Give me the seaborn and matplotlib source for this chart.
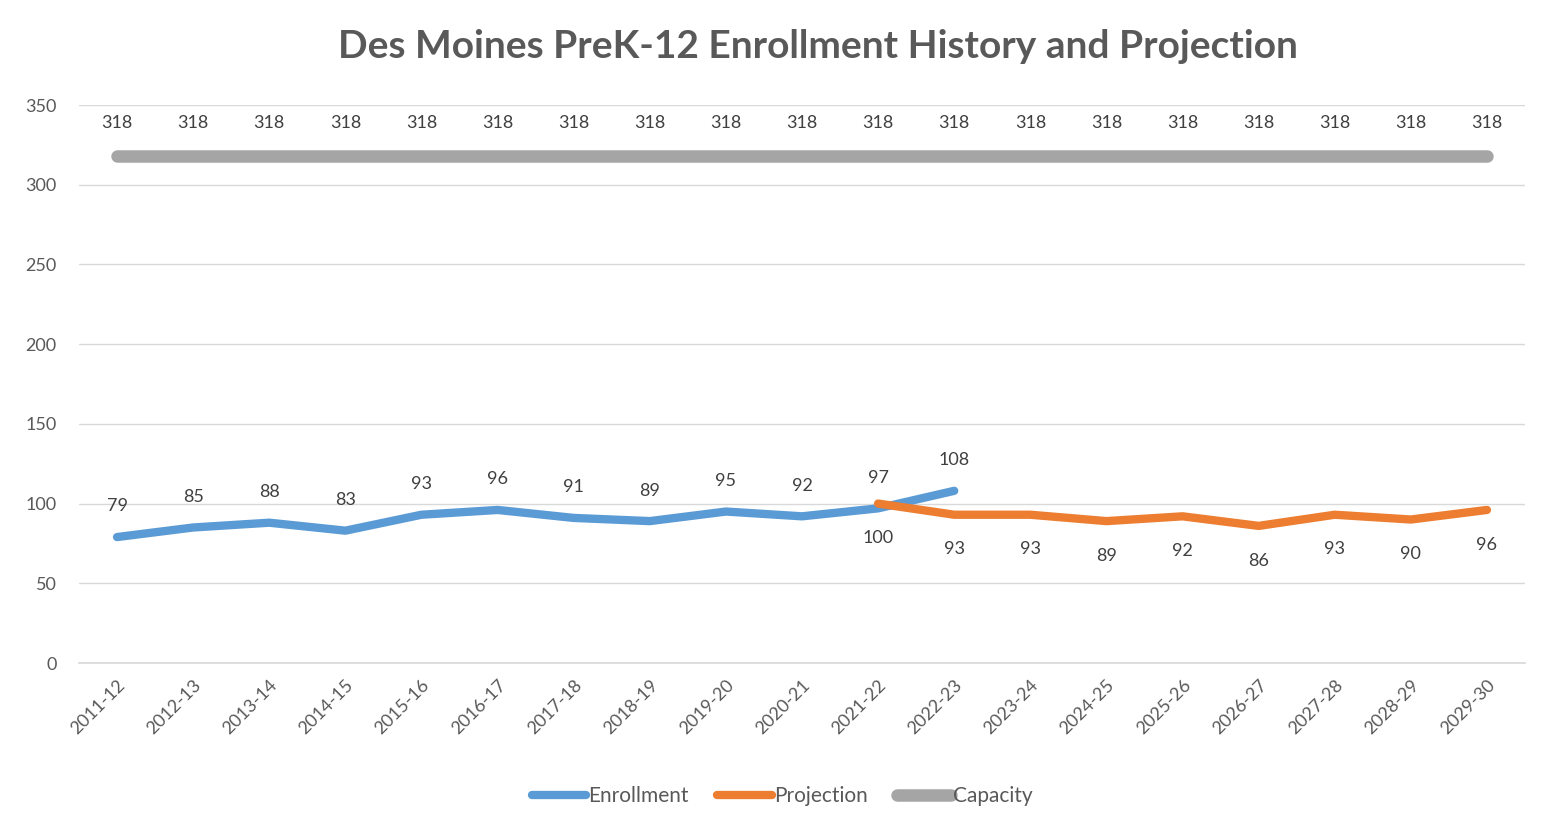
import matplotlib
matplotlib.use("Agg")
import matplotlib.pyplot as plt
import seaborn as sns
import pandas as pd

years = ["2011-12", "2012-13", "2013-14", "2014-15", "2015-16", "2016-17", "2017-18",
         "2018-19", "2019-20", "2020-21", "2021-22", "2022-23", "2023-24", "2024-25",
         "2025-26", "2026-27", "2027-28", "2028-29", "2029-30"]
enrollment = [79, 85, 88, 83, 93, 96, 91, 89, 95, 92, 97, 108]
projection = [100, 93, 93, 89, 92, 86, 93, 90, 96]
projection_start = 10  # projection begins at 2021-22
capacity = [318] * len(years)

sns.set_theme(style="white")
plt.rcParams["font.family"] = ["Lato", "DejaVu Sans"]

text_gray = "#595959"
c_enroll = "#5b9bd5"
c_proj = "#ed7d31"
c_cap = "#a5a5a5"

frames = []
frames.append(pd.DataFrame({"x": range(len(years)), "value": capacity, "series": "Capacity"}))
frames.append(pd.DataFrame({"x": range(len(enrollment)), "value": enrollment, "series": "Enrollment"}))
frames.append(pd.DataFrame({"x": range(projection_start, projection_start + len(projection)),
                            "value": projection, "series": "Projection"}))
df = pd.concat(frames, ignore_index=True)

fig = plt.figure(figsize=(15.53, 8.34), dpi=100)
ax = fig.add_axes([79 / 1553, 1 - 663 / 834, (1525 - 79) / 1553, (663 - 105) / 834])

widths = {"Capacity": 9, "Enrollment": 6, "Projection": 6}
colors = {"Capacity": c_cap, "Enrollment": c_enroll, "Projection": c_proj}
for name in ["Capacity", "Enrollment", "Projection"]:
    sub = df[df["series"] == name]
    sns.lineplot(data=sub, x="x", y="value", ax=ax, color=colors[name],
                 linewidth=widths[name], solid_capstyle="round", solid_joinstyle="round",
                 label=name, legend=False, zorder=3)

# value labels
lab_kw = dict(textcoords="offset points", ha="center", va="center", fontsize=13, color="#404040")
for i, v in enumerate(capacity):
    ax.annotate(f"{v}", (i, v), xytext=(0, 24), **lab_kw)
for i, v in enumerate(enrollment):
    ax.annotate(f"{v}", (i, v), xytext=(0, 22), **lab_kw)
for j, v in enumerate(projection):
    ax.annotate(f"{v}", (projection_start + j, v), xytext=(0, -25), **lab_kw)

ax.set_xlim(-0.5, len(years) - 0.5)
ax.set_ylim(0, 350)
ax.set_yticks(range(0, 351, 50))
ax.set_xticks(range(len(years)))
ax.set_xticklabels(years, rotation=45, ha="right", rotation_mode="anchor")
ax.tick_params(axis="x", labelsize=13, labelcolor=text_gray, length=0, pad=10)
ax.tick_params(axis="y", labelsize=13, labelcolor=text_gray, length=0, pad=16)
ax.set_xlabel("")
ax.set_ylabel("")
ax.yaxis.grid(True, color="#d9d9d9", linewidth=1)
ax.set_axisbelow(True)
for s in ["top", "right", "left"]:
    ax.spines[s].set_visible(False)
ax.spines["bottom"].set_color("#d9d9d9")

fig.text(818 / 1553, 1 - 47 / 834, "Des Moines PreK-12 Enrollment History and Projection",
         ha="center", va="center", fontsize=28, fontweight="bold", color=text_gray)

handles, labels = ax.get_legend_handles_labels()
order = [labels.index(n) for n in ["Enrollment", "Projection", "Capacity"]]
fig.legend([handles[k] for k in order], [labels[k] for k in order],
           loc="center", bbox_to_anchor=(782 / 1553, 1 - 796 / 834), ncol=3, frameon=False,
           fontsize=15, labelcolor=text_gray, handlelength=2.6, handletextpad=0.1,
           columnspacing=1.4)

fig.savefig("out.png", dpi=100, facecolor="white")
